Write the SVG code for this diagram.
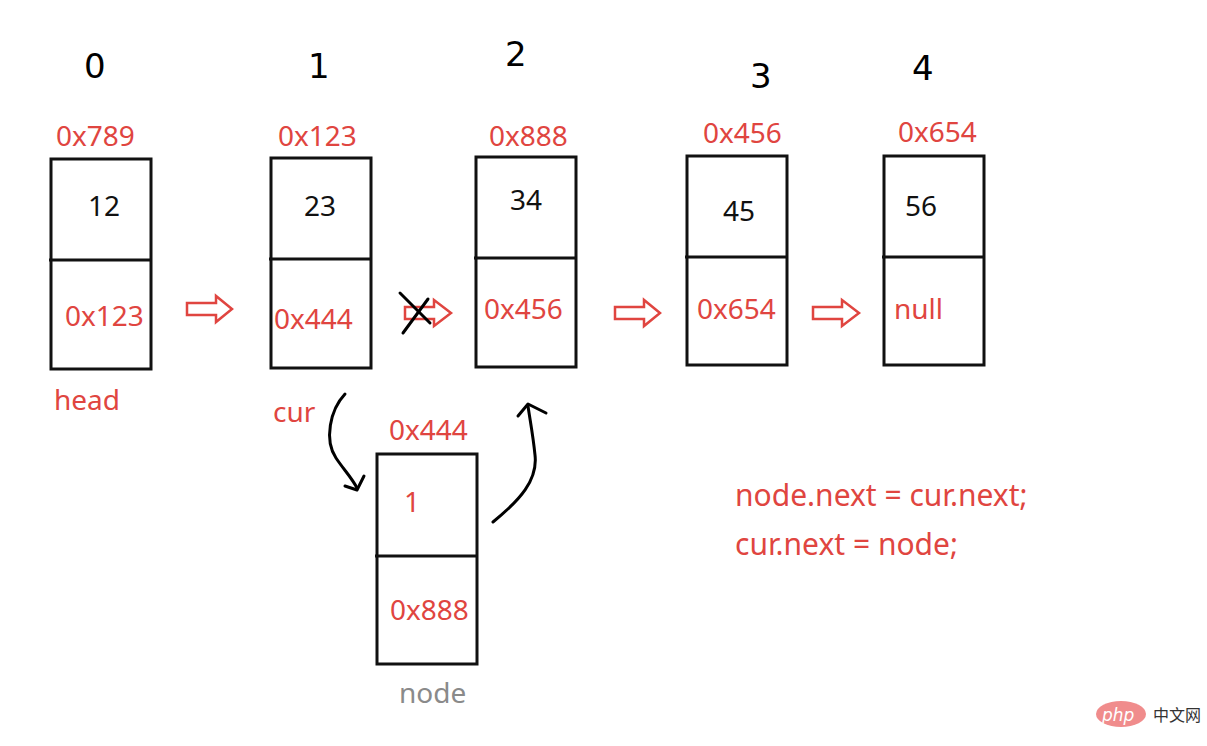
<svg xmlns="http://www.w3.org/2000/svg" width="1207" height="746" viewBox="0 0 1207 746">
<style>
.box{fill:none;stroke:#111;stroke-width:3}
.div{stroke:#111;stroke-width:3}
.r{fill:#e04540;font-family:"Noto Sans","Open Sans",sans-serif;font-size:28px}
.c{fill:#e04540;font-family:"Noto Sans","Open Sans",sans-serif;font-size:30px}
.k{fill:#111;font-family:"Noto Sans","Open Sans",sans-serif;font-size:28px}
.idx{fill:#000;font-family:"DejaVu Sans",sans-serif;font-size:34px}
.g{fill:#8a8a8a;font-family:"Noto Sans","Open Sans",sans-serif;font-size:28px}
.ha{fill:none;stroke:#e04540;stroke-width:2.5;stroke-linejoin:miter}
.pen{fill:none;stroke:#000;stroke-width:3;stroke-linecap:round;stroke-linejoin:round}
</style>
<rect width="1207" height="746" fill="#fff"/>
<g id="indices">
<text class="idx" x="84" y="78">0</text>
<text class="idx" x="308" y="78">1</text>
<text class="idx" x="505" y="66">2</text>
<text class="idx" x="750" y="88">3</text>
<text class="idx" x="912" y="80">4</text>
</g>
<g id="node0">
<rect class="box" x="51" y="159" width="100" height="210"/>
<line class="div" x1="49" y1="260" x2="151" y2="260"/>
<text class="r" x="56" y="146">0x789</text>
<text class="k" x="88" y="216">12</text>
<text class="r" x="65" y="326">0x123</text>
<text class="r" x="54" y="410">head</text>
</g>
<g id="node1">
<rect class="box" x="271" y="158" width="100" height="210"/>
<line class="div" x1="269" y1="259" x2="371" y2="259"/>
<text class="r" x="278" y="146">0x123</text>
<text class="k" x="304" y="216">23</text>
<text class="r" x="274" y="329">0x444</text>
<text class="r" x="273" y="422">cur</text>
</g>
<g id="node2">
<rect class="box" x="476" y="157" width="100" height="210"/>
<line class="div" x1="474" y1="258" x2="576" y2="258"/>
<text class="r" x="489" y="146">0x888</text>
<text class="k" x="510" y="210">34</text>
<text class="r" x="484" y="319">0x456</text>
</g>
<g id="node3">
<rect class="box" x="687" y="156" width="100" height="209"/>
<line class="div" x1="685" y1="257" x2="787" y2="257"/>
<text class="r" x="703" y="143">0x456</text>
<text class="k" x="723" y="221">45</text>
<text class="r" x="697" y="319">0x654</text>
</g>
<g id="node4">
<rect class="box" x="884" y="156" width="100" height="209"/>
<line class="div" x1="882" y1="257" x2="984" y2="257"/>
<text class="r" x="898" y="142">0x654</text>
<text class="k" x="905" y="216">56</text>
<text class="r" x="894" y="319">null</text>
</g>
<g id="newnode">
<rect class="box" x="377" y="454" width="100" height="210"/>
<line class="div" x1="375" y1="556" x2="477" y2="556"/>
<text class="r" x="389" y="440">0x444</text>
<text class="r" x="404" y="512">1</text>
<text class="r" x="390" y="620">0x888</text>
<text class="g" x="399" y="703">node</text>
</g>
<g id="connectors">
<path class="ha" d="M187,303 L216,303 L216,296 L232,309 L216,322 L216,315 L187,315 Z"/>
<path class="ha" d="M405,307 L434,307 L434,300 L451,313 L434,326 L434,319 L405,319 Z"/>
<path class="ha" d="M615,307 L644,307 L644,300 L660,313 L644,326 L644,319 L615,319 Z"/>
<path class="ha" d="M813,307 L842,307 L842,300 L859,313 L842,326 L842,319 L813,319 Z"/>
<path class="pen" d="M400,293 L430,323"/>
<path class="pen" d="M403,333 L428,299"/>
<path class="pen" d="M345,394 C330,410 324,440 336,458 C344,470 352,478 357,488"/>
<path class="pen" d="M345,486 L357,490 L364,476"/>
<path class="pen" d="M493,522 C520,500 538,480 535,455 C533,435 530,420 528,406"/>
<path class="pen" d="M518,416 L528,404 L546,413"/>
</g>
<g id="code">
<text class="c" x="735" y="506">node.next = cur.next;</text>
<text class="c" x="735" y="555">cur.next = node;</text>
</g>
<g id="watermark">
<ellipse cx="1121" cy="714" rx="25" ry="13" fill="#f08c8c"/>
<text x="1102" y="721" fill="#fff" font-family="DejaVu Sans,sans-serif" font-style="italic" font-size="17">php</text>
<text x="1153" y="721" fill="#333" font-family="Noto Sans CJK SC,sans-serif" font-size="16">中文网</text>
</g>
</svg>
